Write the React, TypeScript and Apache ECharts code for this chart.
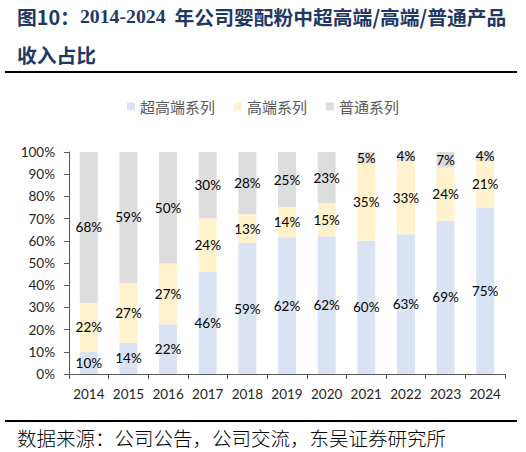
import React, { useEffect, useRef } from 'react';
import * as echarts from 'echarts';

const years = ['2014', '2015', '2016', '2017', '2018', '2019', '2020', '2021', '2022', '2023', '2024'];
// shares in %, labels are rounded from these
const superHigh = [10, 14, 22.4, 46, 59, 61.6, 62, 60, 63, 69, 75];
const high = [22, 27, 27.4, 24, 13, 13.6, 15, 35, 33, 24, 21];
const normal = [68, 59, 50.2, 30, 28, 24.8, 23, 5, 4, 7, 4];
const seriesNames = ['超高端系列', '高端系列', '普通系列'];
const colors = ['#DAE3F3', '#FFF2CC', '#DDDDDD'];

const CJK = '"Noto Sans CJK SC", sans-serif';
const NUM = 'Lato, "Noto Sans", sans-serif';

const App: React.FC = () => {
  const chartRef = useRef<HTMLDivElement>(null);

  useEffect(() => {
    if (!chartRef.current) return;
    const chart = echarts.init(chartRef.current, undefined, { renderer: 'svg' });

    const label = {
      show: true,
      position: 'inside',
      formatter: (p: any) => Math.round(p.value) + '%',
      color: '#000',
      fontSize: 13.5,
      fontFamily: NUM,
    };

    const option = {
      animation: false,
      backgroundColor: '#fff',
      color: colors,
      legend: {
        top: 94,
        left: 'center',
        icon: 'rect',
        itemWidth: 8,
        itemHeight: 8,
        itemGap: 19,
        textStyle: { fontSize: 15, color: '#595959', fontFamily: CJK },
        data: seriesNames,
      },
      grid: { left: 69, right: 21, top: 152, bottom: 78 },
      xAxis: {
        type: 'category',
        data: years,
        axisLine: { lineStyle: { color: '#595959', width: 1 } },
        axisTick: { show: true, length: 5, interval: 0, lineStyle: { color: '#595959' } },
        axisLabel: { interval: 0, color: '#262626', fontSize: 13.5, fontFamily: NUM, margin: 13 },
      },
      yAxis: {
        type: 'value',
        min: 0,
        max: 100,
        interval: 10,
        splitLine: { show: false },
        axisLine: { show: true, lineStyle: { color: '#595959', width: 1 } },
        axisTick: { show: true, length: 5, lineStyle: { color: '#595959' } },
        axisLabel: { formatter: '{value}%', color: '#262626', fontSize: 13.5, fontFamily: NUM, margin: 14 },
      },
      series: [
        { name: seriesNames[0], type: 'bar', stack: 'total', barWidth: 18, data: superHigh, label },
        { name: seriesNames[1], type: 'bar', stack: 'total', barWidth: 18, data: high, label },
        { name: seriesNames[2], type: 'bar', stack: 'total', barWidth: 18, data: normal, label },
      ],
      graphic: [
        {
          type: 'text',
          x: 17,
          y: 16,
          style: {
            text: '{a|图10：}{b|2014-2024}{a|  年公司婴配粉中超高端/高端/普通产品}',
            verticalAlign: 'middle',
            rich: {
              a: { fontSize: 19.8, fontWeight: 'bold', fontFamily: CJK, fill: '#1F3864' },
              b: { fontSize: 19.8, fontWeight: 'bold', fontFamily: '"Liberation Serif", serif', fill: '#1F3864' },
            },
          },
        },
        {
          type: 'text',
          x: 17,
          y: 54,
          style: {
            text: '收入占比',
            verticalAlign: 'middle',
            fontSize: 19.8,
            fontWeight: 'bold',
            fontFamily: CJK,
            fill: '#1F3864',
          },
        },
        {
          type: 'line',
          shape: { x1: 5, y1: 72, x2: 517, y2: 72 },
          style: { stroke: '#000', lineWidth: 2 },
        },
        {
          type: 'line',
          shape: { x1: 5, y1: 421, x2: 517, y2: 421 },
          style: { stroke: '#000', lineWidth: 2 },
        },
        {
          type: 'text',
          x: 17,
          y: 437,
          style: {
            text: '数据来源：公司公告，公司交流，东吴证券研究所',
            verticalAlign: 'middle',
            fontSize: 19.5,
            fontWeight: 300,
            fontFamily: CJK,
            fill: '#000',
          },
        },
      ],
    };

    chart.setOption(option as any);
    return () => {
      chart.dispose();
    };
  }, []);

  return (
    <div
      ref={chartRef}
      style={{ position: 'fixed', left: 0, top: 0, width: '526px', height: '452px' }}
    />
  );
};

export default App;
